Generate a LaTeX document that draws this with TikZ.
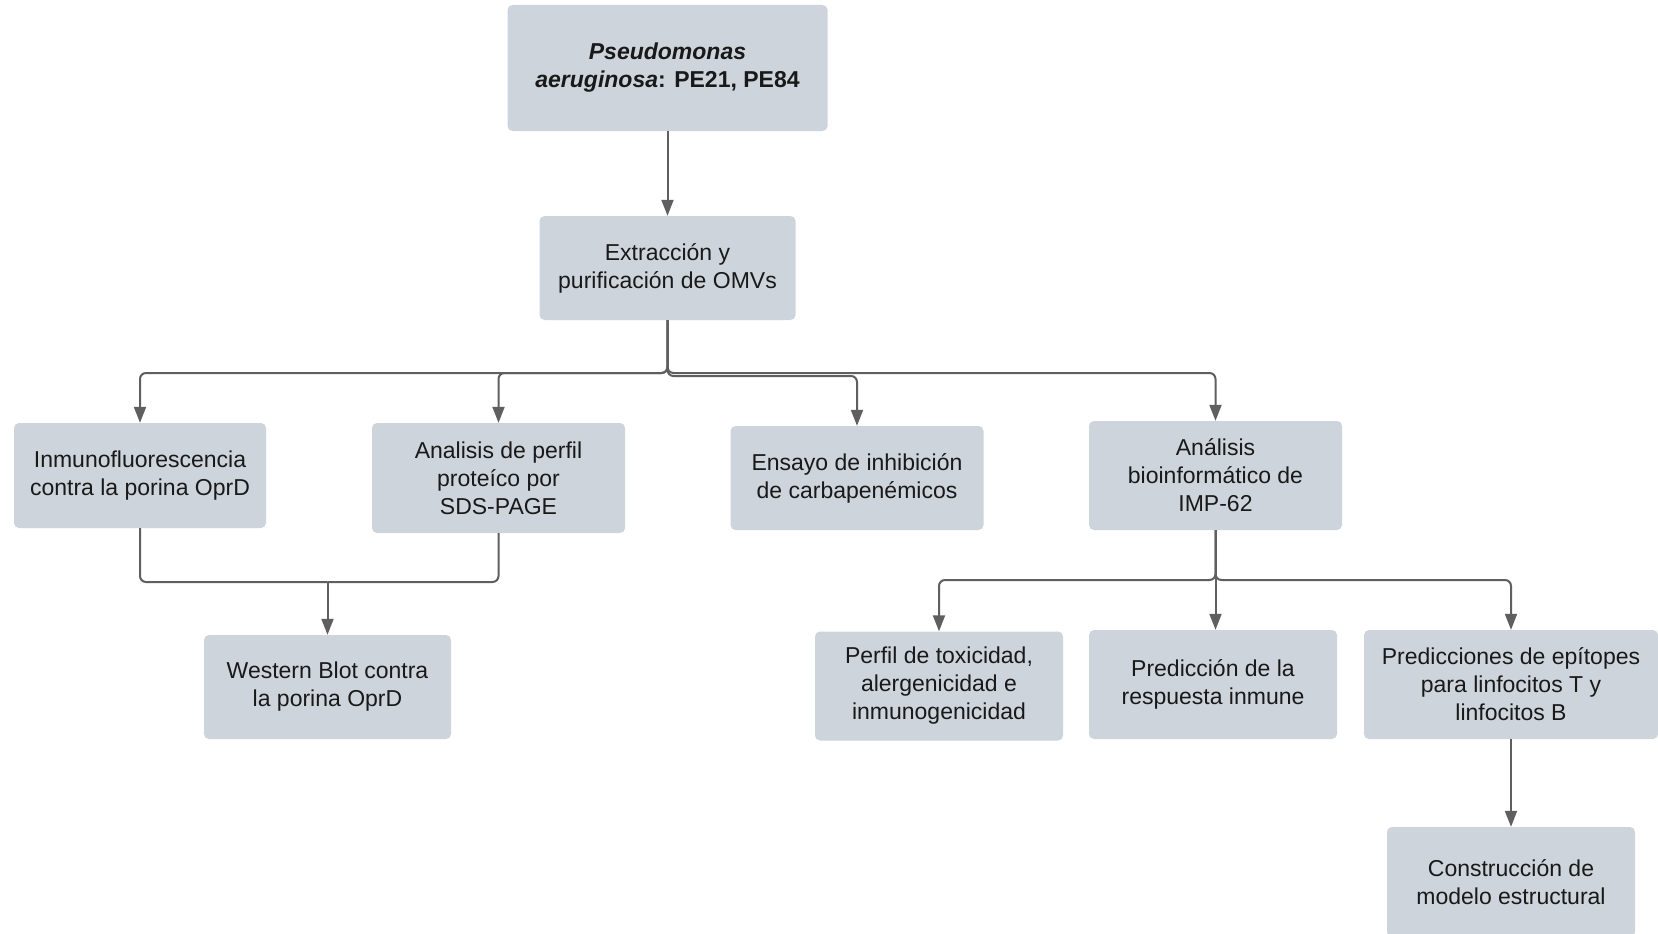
\documentclass[tikz,border=0pt]{standalone}
\usepackage{fontspec}
\setmainfont{Liberation Sans}
\usetikzlibrary{arrows.meta, positioning}
\definecolor{cajagris}{RGB}{206,212,219}
\definecolor{lineagris}{RGB}{95,95,95}
\definecolor{texto}{RGB}{25,25,25}

\begin{document}
\begin{tikzpicture}[x=1pt, y=-1pt,
    caja/.style={fill=cajagris, rounded corners=5pt, align=center, text=texto,
        inner sep=0pt, font=\fontsize{23}{28}\selectfont},
    linea/.style={lineagris, line width=2pt, rounded corners=6pt},
    flecha/.style={linea, -{Triangle[length=16pt, width=12pt]}}]
    \useasboundingbox[fill=white] (0,0) rectangle (1658,934);

    % Sample
    \node[caja, minimum width=320pt, minimum height=126pt] (cepas) at (667.5,68)
        {\textbf{\textit{Pseudomonas}}\\\textbf{{\itshape aeruginosa}: PE21, PE84}};
    \node[caja, minimum width=256pt, minimum height=104pt] (omv) at (667.5,268)
        {Extracción y\\purificación de OMVs};

    % Second level
    \node[caja, minimum width=252pt, minimum height=105pt] (inmuno) at (140,475.5)
        {Inmunofluorescencia\\contra la porina OprD};
    \node[caja, minimum width=253pt, minimum height=110pt] (sds) at (498.5,478)
        {Analisis de perfil\\proteíco por\\SDS-PAGE};
    \node[caja, minimum width=253pt, minimum height=104pt] (ensayo) at (857,478)
        {Ensayo de inhibición\\de carbapenémicos};
    \node[caja, minimum width=253pt, minimum height=109pt] (bioinf) at (1215.5,475.5)
        {Análisis\\bioinformático de\\IMP-62};

    % Western blot
    \node[caja, minimum width=247pt, minimum height=104pt] (western) at (327.5,687)
        {Western Blot contra\\la porina OprD};

    % Bioinformatics branch
    \node[caja, minimum width=248pt, minimum height=109pt] (toxic) at (939,686)
        {Perfil de toxicidad,\\alergenicidad e\\inmunogenicidad};
    \node[caja, minimum width=248pt, minimum height=109pt] (respuesta) at (1213,684.5)
        {Predicción de la\\respuesta inmune};
    \node[caja, minimum width=294pt, minimum height=109pt] (epitopes) at (1511,684.5)
        {Predicciones de epítopes\\para linfocitos T y\\linfocitos B};
    \node[caja, minimum width=248pt, minimum height=110pt] (modelo) at (1511,882)
        {Construcción de\\modelo estructural};

    % Connectors
    \coordinate (rama1) at (667.5,373);
    \coordinate (rama1b) at (667.5,376);
    \coordinate (union) at (327.5,582);
    \coordinate (rama2) at (1215.5,580);

    \draw[flecha] (cepas) -- (omv);

    \draw[flecha] (omv.south) -- (rama1) -| (inmuno.north);
    \draw[flecha] (omv.south) -- (rama1) -| (sds.north);
    \draw[flecha] (omv.south) -- (rama1b) -| (ensayo.north);
    \draw[flecha] (omv.south) -- (rama1) -| (bioinf.north);

    \draw[linea] (inmuno.south) |- (union);
    \draw[linea] (sds.south) |- (union);
    \draw[flecha] (union) -- (western);

    \draw[flecha] (bioinf.south) -- (rama2) -| (toxic.north);
    \draw[flecha] (bioinf.south) -- (rama2 |- respuesta.north);
    \draw[flecha] (bioinf.south) -- (rama2) -| (epitopes.north);

    \draw[flecha] (epitopes) -- (modelo);
\end{tikzpicture}
\end{document}
